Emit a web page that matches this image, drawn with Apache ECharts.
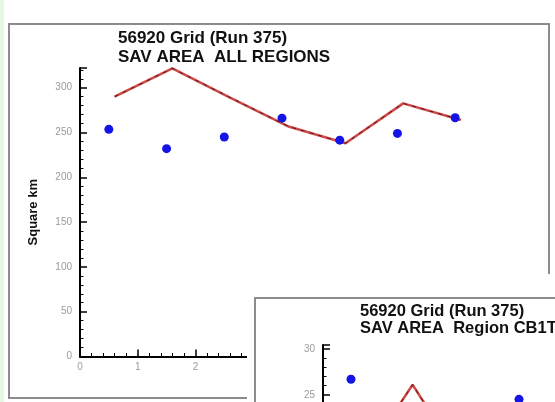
<!DOCTYPE html>
<html>
<head>
<meta charset="utf-8">
<script src="https://cdn.jsdelivr.net/npm/echarts@6/dist/echarts.min.js"></script>
<style>
  html, body { margin: 0; padding: 0; background: #fff; overflow: hidden; }
  #chart { width: 555px; height: 402px; }
</style>
</head>
<body>
<div id="chart"></div>
<script>
// Main panel: SAV area, all regions (square km)
const allX = [0.5, 1.5, 2.5, 3.5, 4.5, 5.5, 6.5];
const allObserved = [253.5, 232, 245, 266, 241.5, 249, 266.5];
const allModelX = [0.6, 1.6, 2.6, 3.6, 4.6, 5.6, 6.6];
const allModel = [290, 321.5, 289, 257, 238, 282.5, 264];

// Inset panel: SAV area, region CB1T
const cbX = [0.5, 3.5];
const cbObserved = [26.7, 24.5];
const cbModelX = [0.6, 1.6, 2.6];
const cbModel = [16.8, 26.1, 16.5];

const titleMain = '56920 Grid (Run 375)\nSAV AREA  ALL REGIONS';
const titleInset = '56920 Grid (Run 375)\nSAV AREA  Region CB1T';
const yName = 'Square km';

const FONT = '"Liberation Sans", Arial, sans-serif';
const pairs = (xs, ys) => xs.map((x, i) => [x, ys[i]]);

function axisCommon(z) {
  return {
    z: z,
    axisLine: { onZero: false, lineStyle: { color: '#000', width: 2 } },
    axisTick: { inside: true, length: 7, lineStyle: { color: '#000', width: 1.5 } },
    minorTick: { show: true, splitNumber: 5, length: 3.5, lineStyle: { color: '#000', width: 1 } },
    splitLine: { show: false },
    axisLabel: { color: '#9a9a9a', fontSize: 10, fontFamily: FONT, showMaxLabel: false }
  };
}

const chart = echarts.init(document.getElementById('chart'), null, { renderer: 'canvas' });

chart.setOption({
  backgroundColor: '#ffffff',
  animation: false,
  title: [
    { text: titleMain, left: 113, top: 24, z: 2,
      textStyle: { fontSize: 17, fontWeight: 'bold', color: '#111', lineHeight: 19, fontFamily: FONT } },
    { text: titleInset, left: 355, top: 298, z: 20,
      textStyle: { fontSize: 16.5, fontWeight: 'bold', color: '#111', lineHeight: 17, fontFamily: FONT } }
  ],
  graphic: [
    { type: 'rect', z: 0, silent: true, shape: { x: 0, y: 0, width: 4, height: 402 },
      style: { fill: '#e4f8e4' } },
    { type: 'rect', z: 0, silent: true, shape: { x: 9, y: 24, width: 540, height: 374 },
      style: { fill: 'none', stroke: '#8c8c8c', lineWidth: 2 } },
    // white margin around the inset picture
    { type: 'rect', z: 9, silent: true, shape: { x: 247, y: 274, width: 320, height: 140 },
      style: { fill: '#ffffff' } },
    { type: 'rect', z: 10, silent: true, shape: { x: 255, y: 298, width: 320, height: 200 },
      style: { fill: '#ffffff', stroke: '#8c8c8c', lineWidth: 2 } }
  ],
  grid: [
    { left: 80, top: 68, right: 71, bottom: 45.5, containLabel: false, outerBoundsMode: 'none' },
    { left: 323, top: 345, width: 392, height: 278, containLabel: false, outerBoundsMode: 'none' }
  ],
  xAxis: [
    Object.assign(axisCommon(1), { gridIndex: 0, type: 'value', min: 0, max: 7, interval: 1,
      axisLabel: { color: '#9a9a9a', fontSize: 10, fontFamily: FONT, margin: 6 } }),
    Object.assign(axisCommon(12), { gridIndex: 1, type: 'value', min: 0, max: 7, interval: 1 })
  ],
  yAxis: [
    Object.assign(axisCommon(1), { gridIndex: 0, type: 'value', min: 0, max: 322, interval: 50,
      name: yName, nameLocation: 'middle', nameGap: 40,
      nameTextStyle: { fontSize: 13, fontWeight: 'bold', color: '#111', fontFamily: FONT } }),
    Object.assign(axisCommon(12), { gridIndex: 1, type: 'value', min: 0, max: 30.45, interval: 5 })
  ],
  series: [
    { type: 'line', xAxisIndex: 0, yAxisIndex: 0, z: 3, clip: false, symbol: 'none',
      data: pairs(allModelX, allModel), lineStyle: { color: '#d04848', width: 2.5 } },
    { type: 'line', xAxisIndex: 0, yAxisIndex: 0, z: 4, clip: false, symbol: 'none',
      data: pairs(allModelX, allModel), lineStyle: { color: '#5a1818', width: 1, type: [4, 5] } },
    { type: 'scatter', xAxisIndex: 0, yAxisIndex: 0, z: 5, symbolSize: 9,
      data: pairs(allX, allObserved), itemStyle: { color: '#1414e6', opacity: 1 } },
    { type: 'line', xAxisIndex: 1, yAxisIndex: 1, z: 13, clip: false, symbol: 'none',
      data: pairs(cbModelX, cbModel), lineStyle: { color: '#d04848', width: 2.5 } },
    { type: 'line', xAxisIndex: 1, yAxisIndex: 1, z: 14, clip: false, symbol: 'none',
      data: pairs(cbModelX, cbModel), lineStyle: { color: '#5a1818', width: 1, type: [4, 5] } },
    { type: 'scatter', xAxisIndex: 1, yAxisIndex: 1, z: 15, symbolSize: 9,
      data: pairs(cbX, cbObserved), itemStyle: { color: '#1414e6', opacity: 1 } }
  ]
});
</script>
</body>
</html>
